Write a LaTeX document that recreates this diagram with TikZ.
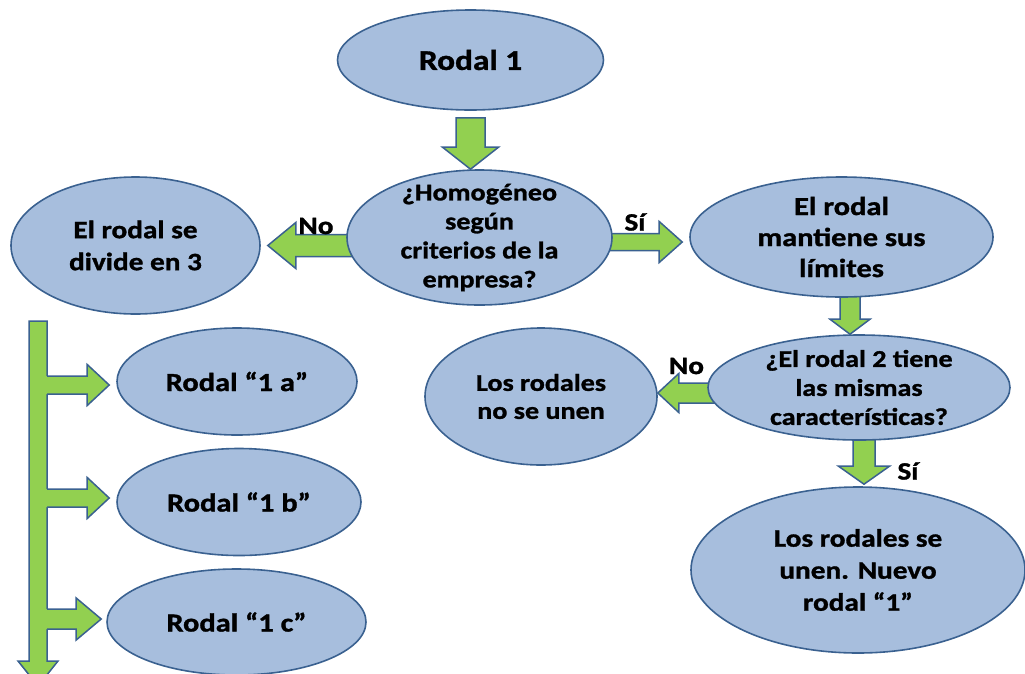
\documentclass[tikz,border=0pt]{standalone}
\usepackage{fontspec}
\newfontfamily\cfont{Carlito}[FakeStretch=1.17,FakeBold=1.2]
\usetikzlibrary{shapes.geometric,calc,backgrounds}
\definecolor{ellfill}{HTML}{A7BEDD}
\definecolor{ellline}{HTML}{3A6190}
\definecolor{arrgreen}{HTML}{92D050}
\tikzset{
  ell/.style={ellipse,draw=ellline,line width=1.6pt,fill=ellfill,inner sep=0pt},
  txt/.style={align=center,text=black,inner sep=0pt},
  arrbox/.style={draw=ellline,line width=1.5pt,fill=arrgreen,line join=miter},
  arrfillonly/.style={fill=arrgreen},
  arrlineonly/.style={draw=ellline,line width=1.5pt,line join=miter},
  lbl/.style={font=\cfont\bfseries\fontsize{25}{28}\selectfont,inner sep=0pt,text=black}
}
% down arrow: #1 start, #2 tip, #3 shaft half width, #4 head half width, #5 head length
\newcommand\barrowD[5]{\draw[arrbox] let \p1=(#1),\p2=(#2) in
  (\x2-#3pt,\y1) -- (\x2+#3pt,\y1) -- (\x2+#3pt,\y2+#5pt) -- (\x2+#4pt,\y2+#5pt)
  -- (\x2,\y2) -- (\x2-#4pt,\y2+#5pt) -- (\x2-#3pt,\y2+#5pt) -- cycle;}
\newcommand\barrowL[5]{\draw[arrbox] let \p1=(#1),\p2=(#2) in
  (\x1,\y2+#3pt) -- (\x2+#5pt,\y2+#3pt) -- (\x2+#5pt,\y2+#4pt) -- (\x2,\y2)
  -- (\x2+#5pt,\y2-#4pt) -- (\x2+#5pt,\y2-#3pt) -- (\x1,\y2-#3pt) -- cycle;}
\newcommand\barrowR[5]{\draw[arrbox] let \p1=(#1),\p2=(#2) in
  (\x1,\y2+#3pt) -- (\x2-#5pt,\y2+#3pt) -- (\x2-#5pt,\y2+#4pt) -- (\x2,\y2)
  -- (\x2-#5pt,\y2-#4pt) -- (\x2-#5pt,\y2-#3pt) -- (\x1,\y2-#3pt) -- cycle;}
% branch arrow joined to the vertical shaft (no stroke on its left end)
\newcommand\barrowB[5]{%
  \fill[arrfillonly] let \p1=(#1),\p2=(#2) in
  (\x1,\y2+#3pt) -- (\x2-#5pt,\y2+#3pt) -- (\x2-#5pt,\y2+#4pt) -- (\x2,\y2)
  -- (\x2-#5pt,\y2-#4pt) -- (\x2-#5pt,\y2-#3pt) -- (\x1,\y2-#3pt) -- cycle;
  \draw[arrlineonly] let \p1=(#1),\p2=(#2) in
  (\x1+9pt,\y2+#3pt) -- (\x2-#5pt,\y2+#3pt) -- (\x2-#5pt,\y2+#4pt) -- (\x2,\y2)
  -- (\x2-#5pt,\y2-#4pt) -- (\x2-#5pt,\y2-#3pt) -- (\x1+9pt,\y2-#3pt);}
\begin{document}
\begin{tikzpicture}[x=1pt,y=-1pt]
\useasboundingbox (0,0) rectangle (1025,673);
\clip (0,0) rectangle (1025,673);
% ellipses
\node[ell,minimum width=266pt,minimum height=100pt,
  label={[txt,font=\cfont\bfseries\fontsize{28.5}{32}\selectfont]center:Rodal 1}] (r1) at (470.5,60) {};
\node[ell,minimum width=265pt,minimum height=135pt,
  label={[txt,font=\cfont\bfseries\fontsize{24}{29}\selectfont]center:{¿Homogéneo\\según\\criterios de la\\empresa?}}] (q1) at (479.5,237.5) {};
\node[ell,minimum width=249pt,minimum height=137pt,
  label={[txt,font=\cfont\bfseries\fontsize{25}{32}\selectfont]center:{El rodal se\\divide en 3}}] (div) at (135.5,245.5) {};
\node[ell,minimum width=303pt,minimum height=120pt,
  label={[txt,font=\cfont\bfseries\fontsize{26}{31}\selectfont]center:{El rodal\\mantiene sus\\límites}}] (keep) at (841.5,237) {};
\node[ell,minimum width=302pt,minimum height=105pt,
  label={[txt,font=\cfont\bfseries\fontsize{24}{29}\selectfont]center:{¿El rodal 2 tiene\\las mismas\\características?}}] (q2) at (859,387.5) {};
\node[ell,minimum width=232pt,minimum height=137pt,
  label={[txt,font=\cfont\bfseries\fontsize{24}{28}\selectfont]center:{Los rodales\\no se unen}}] (no) at (541,396.5) {};
\node[ell,minimum width=334pt,minimum height=166pt,
  label={[txt,font=\cfont\bfseries\fontsize{25}{32}\selectfont]center:{Los rodales se\\unen. Nuevo\\rodal “1”}}] (yes) at (858,570) {};
\node[ell,minimum width=240pt,minimum height=107pt,
  label={[txt,font=\cfont\bfseries\fontsize{26}{30}\selectfont]center:{Rodal “1 a”}}] (r1a) at (237,381.5) {};
\node[ell,minimum width=244pt,minimum height=107pt,
  label={[txt,font=\cfont\bfseries\fontsize{26}{30}\selectfont]center:{Rodal “1 b”}}] (r1b) at (239,502) {};
\node[ell,minimum width=259pt,minimum height=106pt,
  label={[txt,font=\cfont\bfseries\fontsize{26}{30}\selectfont]center:{Rodal “1 c”}}] (r1c) at (236.5,622) {};
% free ends of the long vertical arrow
\coordinate (vtop) at (38,321);
\coordinate (vend) at (38,686);
% block arrows behind the ellipses
\begin{pgfonlayer}{background}
\clip (0,0) rectangle (1025,673);
\barrowD{$(r1.south)+(0,7)$}{r1.south |- q1.north}{14.5}{28}{22}
\barrowL{q1.center}{$(div.east)+(7,0)$}{11}{23}{28}
\barrowR{q1.center}{$(keep.west)+(-7,5)$}{8.5}{20.5}{23}
\barrowD{keep.center}{$(q2.north)+(-9,0)$}{10}{20}{15}
\barrowL{q2.center}{$(no.east)+(0,-3.5)$}{10}{19.5}{21}
\barrowD{q2.center}{$(yes.north)+(6,-2)$}{11}{25.5}{18}
\barrowD{vtop}{vend}{9}{20}{25}
\barrowB{vtop}{$(r1a.west)+(-7,3.5)$}{9}{20.5}{22}
\barrowB{vtop}{$(r1b.west)+(-7,-4)$}{9}{20.5}{22}
\barrowB{vtop}{$(r1c.west)+(-5,-3)$}{10}{21}{25}
\end{pgfonlayer}
% branch labels
\node[lbl] (lno1) at (316,226) {No};
\node[lbl] (lsi1) at (635,222) {Sí};
\node[lbl] (lno2) at (686.5,366) {No};
\node[lbl] (lsi2) at (908,471) {Sí};
\end{tikzpicture}
\end{document}
